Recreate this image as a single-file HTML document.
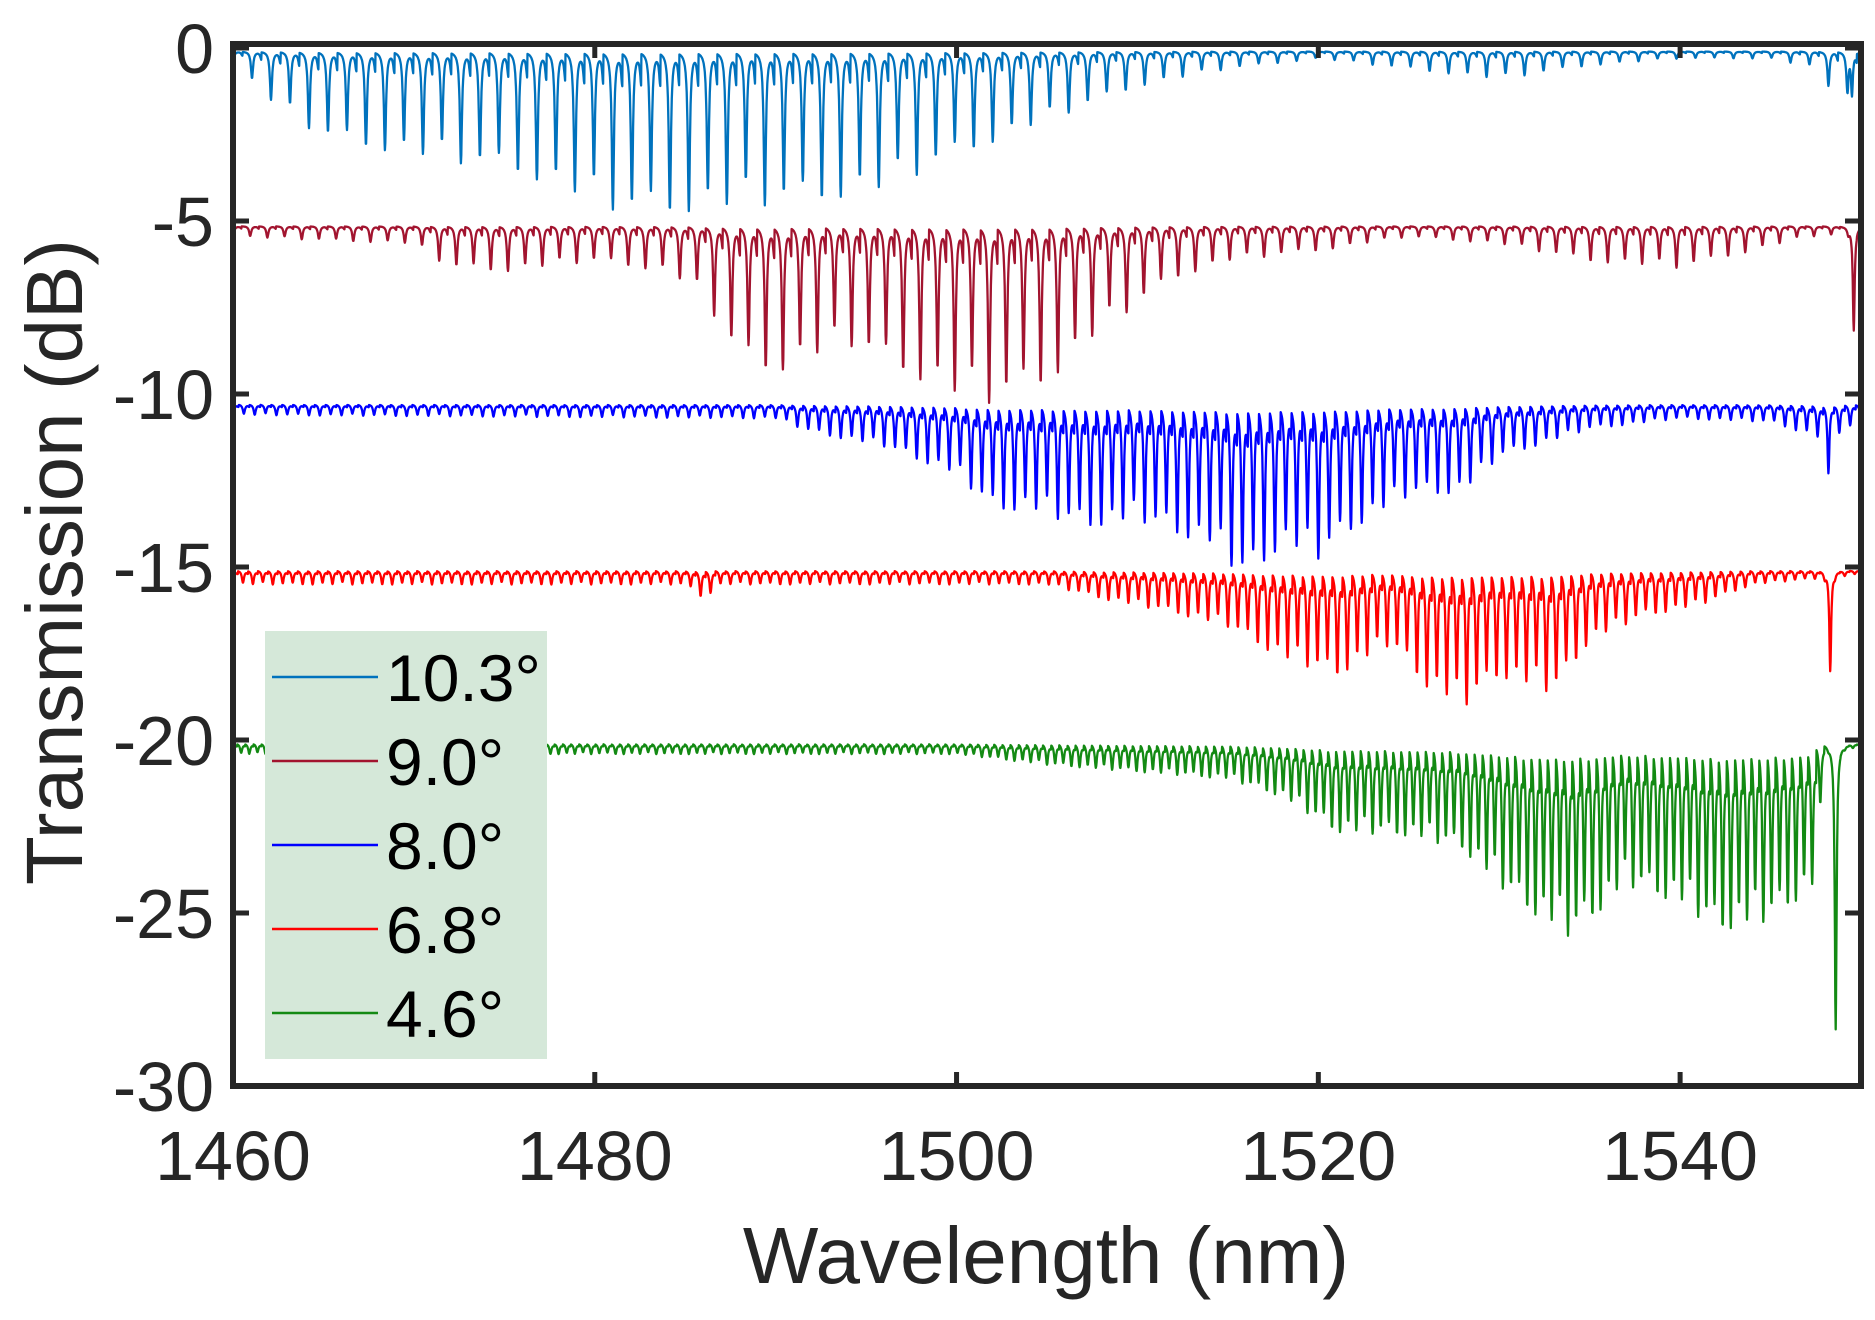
<!DOCTYPE html>
<html><head><meta charset="utf-8">
<style>
html,body{margin:0;padding:0;background:#fff;}
svg{display:block;font-family:"Liberation Sans",Arial,sans-serif;}
</style></head>
<body>
<svg id="chart" width="1875" height="1320" viewBox="0 0 1875 1320">
<defs><clipPath id="plotclip"><rect x="233" y="40" width="1628" height="1046"/></clipPath></defs>
<g id="series" clip-path="url(#plotclip)"></g>
<g id="axes"></g>
<g id="legend"></g>
</svg>
<script>
// ---- data ----
const xTicks = [1460, 1480, 1500, 1520, 1540];
const yTicks = [0, -5, -10, -15, -20, -25, -30];
const seriesNames = ["10.3°", "9.0°", "8.0°", "6.8°", "4.6°"];
const seriesColors = ["#0072BD", "#A2142F", "#0000FF", "#FF0000", "#138A13"];
const baselines = [-0.1, -5.15, -10.3, -15.1, -20.1];
const fringePeriods = [1.05, 0.95, 0.6, 0.55, 0.45];
// dip-depth envelopes (dB below baseline) vs wavelength
const env0W = [1460,1462,1465,1470,1476,1480,1482,1488,1492,1496,1500,1505,1510,1515,1520,1525,1530,1535,1540,1545,1547.5,1548.5,1550];
const env0D = [0.3,1.4,2.5,3.0,3.5,4.4,4.7,4.5,4.3,4.0,3.0,2.0,1.0,0.5,0.2,0.5,0.8,0.4,0.2,0.2,0.5,1.2,1.3];
const env1W = [1460,1470,1472,1475,1480,1484,1486,1488,1490,1494,1500,1502,1505,1508,1512,1515,1520,1525,1530,1535,1540,1544,1547,1550];
const env1D = [0.3,0.5,1.2,1.3,1.0,1.3,2.0,3.9,4.2,3.4,4.9,5.1,4.5,3.0,1.5,1.0,0.7,0.3,0.5,1.0,1.2,0.7,0.3,0.2];
const env2W = [1460,1490,1492,1496,1500,1502,1504,1507,1510,1514,1516,1518,1520,1522,1525,1528,1530,1535,1540,1545,1548,1550];
const env2D = [0.3,0.4,0.8,1.2,2.0,3.0,3.0,3.5,3.3,4.0,5.0,4.0,4.4,3.5,2.6,2.5,1.5,0.7,0.4,0.5,1.0,0.5];
const env3W = [1460,1485,1486,1487,1505,1508,1512,1515,1518,1521,1524,1526,1528,1530,1533,1535,1538,1541,1544,1548,1550];
const env3D = [0.4,0.4,0.8,0.4,0.4,0.8,1.2,1.6,2.5,3.0,2.1,3.3,3.9,3.0,3.5,2.0,1.3,1.0,0.4,0.2,0.1];
const env4W = [1460,1500,1505,1510,1515,1518,1521,1525,1528,1531,1534,1537,1540,1542,1545,1547.5,1548,1550];
const env4D = [0.3,0.3,0.6,0.8,1.0,1.5,2.5,2.6,3.0,4.5,5.5,4.0,4.5,5.3,5.0,4.0,0.1,0.1];
const envW = [env0W, env1W, env2W, env3W, env4W];
const envD = [env0D, env1D, env2D, env3D, env4D];
// isolated sharp features near the long-wavelength edge
const spikeW = [1549.5, 1549.6, 1548.2, 1548.3, 1548.6];
const spikeD = [1.2, 3.0, 1.2, 2.9, 8.2];
const depthPattern = [1, 0.88, 0.97, 0.82, 1, 0.92, 0.86, 0.99];

// ---- axis functions ----
const X0 = 233, X1 = 1861, Y0 = 48, Y1 = 1086;
const xMin = 1460, xMax = 1550, yMin = -30, yMax = 0;
const xs = w => X0 + (w - xMin) / (xMax - xMin) * (X1 - X0);
const ys = v => Y0 + (yMax - v) / (yMax - yMin) * (Y1 - Y0);
const NS = "http://www.w3.org/2000/svg";

function interp(W, D, w) {
  if (w <= W[0]) return D[0];
  for (let i = 1; i < W.length; i++) {
    if (w <= W[i]) { const t = (w - W[i-1]) / (W[i] - W[i-1]); return D[i-1] + t * (D[i] - D[i-1]); }
  }
  return D[D.length - 1];
}

const gS = document.getElementById("series");
for (let s = 0; s < seriesNames.length; s++) {
  const P = fringePeriods[s];
  let d = "";
  for (let w = xMin; w <= xMax; w += 0.02) {
    const k = Math.round((w - xMin) / P);
    const c = xMin + k * P;
    const dist = (w - c) / 0.07;
    const main = interp(envW[s], envD[s], c) * depthPattern[((k % 8) + 8) % 8] / (1 + dist * dist);
    const c2 = c + P / 2, d2 = (w - c2) / 0.08;
    const sec = 0.2 * interp(envW[s], envD[s], c2) / (1 + d2 * d2);
    const ds = (w - spikeW[s]) / 0.06;
    const spike = spikeD[s] / (1 + ds * ds);
    const v = baselines[s] - main - sec - spike;
    d += (d ? "L" : "M") + xs(w).toFixed(1) + " " + ys(v).toFixed(1);
  }
  const p = document.createElementNS(NS, "path");
  p.setAttribute("d", d);
  p.setAttribute("fill", "none");
  p.setAttribute("stroke", seriesColors[s]);
  p.setAttribute("stroke-width", "2.3");
  p.setAttribute("stroke-linejoin", "round");
  
  
  gS.appendChild(p);
}

// ---- axes ----
const gA = document.getElementById("axes");
function el(tag, attrs, parent, text) {
  const e = document.createElementNS(NS, tag);
  for (const k in attrs) e.setAttribute(k, attrs[k]);
  if (text !== undefined) e.textContent = text;
  parent.appendChild(e);
  return e;
}
const box = el("rect", {x: X0, y: Y0 - 4, width: X1 - X0, height: Y1 - Y0 + 4, fill: "none", stroke: "#262626", "stroke-width": 6}, gA);


xTicks.forEach(t => {
  const x = xs(t);
  const tk = el("path", {d: `M${x} ${Y1}V${Y1-14}M${x} ${Y0-4}V${Y0+10}`, stroke: "#262626", "stroke-width": 5}, gA);
  
  
  const lb = el("text", {x: x, y: 1180, "text-anchor": "middle", "font-size": 70, fill: "#262626"}, gA, String(t));
  
  
});
yTicks.forEach(t => {
  const y = ys(t);
  const tk = el("path", {d: `M${X0} ${y}H${X0+16}M${X1} ${y}H${X1-16}`, stroke: "#262626", "stroke-width": 5}, gA);
  
  
  const lb = el("text", {x: 214, y: y + 25, "text-anchor": "end", "font-size": 70, fill: "#262626"}, gA, String(t));
  
  
});
const xt = el("text", {x: 1046, y: 1283, "text-anchor": "middle", "font-size": 80, fill: "#262626"}, gA, "Wavelength (nm)");


const yt = el("text", {x: 0, y: 0, "text-anchor": "middle", "font-size": 80, fill: "#262626", transform: "translate(82,562) rotate(-90)"}, gA, "Transmission (dB)");



// ---- legend ----
const gL = document.getElementById("legend");
const lbg = el("rect", {x: 265, y: 631, width: 282, height: 428, fill: "#d5e8d9"}, gL);


seriesNames.forEach((n, i) => {
  const y = 677 + i * 84;
  const ln = el("line", {x1: 272, x2: 378, y1: y, y2: y, stroke: seriesColors[i], "stroke-width": 2.5}, gL);
  
  
  const tx = el("text", {x: 386, y: y + 24, "font-size": 66, fill: "#000"}, gL, n);
  
  
});
</script>
</body></html>
